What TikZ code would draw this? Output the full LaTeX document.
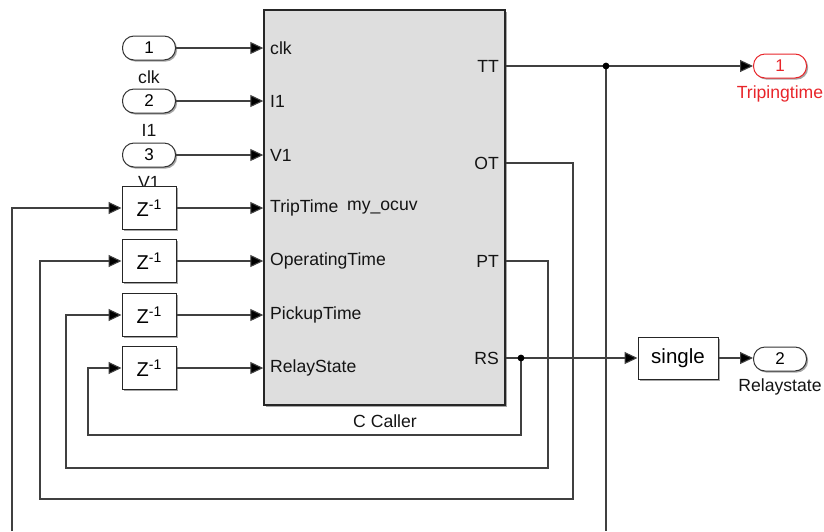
\documentclass[tikz,border=0pt]{standalone}
\usepackage{fontspec}
\setmainfont{Liberation Sans}
\usetikzlibrary{arrows.meta,shadows}
\definecolor{wirec}{HTML}{404040}
\definecolor{blkfill}{HTML}{DEDEDE}
\definecolor{outred}{HTML}{E8252A}
\begin{document}
\begin{tikzpicture}[x=1pt,y=-1pt,
  shd/.style={drop shadow={shadow xshift=1.6pt,shadow yshift=-1.6pt,opacity=0.35,fill=black}},
  port/.style={draw=black!80,line width=1pt,rounded corners=11.5pt,minimum width=53pt,minimum height=24pt,inner sep=0pt,fill=white,font=\fontsize{17}{17}\selectfont,shd},
  delay/.style={draw=black!85,line width=1pt,minimum width=54pt,minimum height=43pt,inner sep=0pt,fill=white,shd},
  cbox/.style={draw=black!85,line width=1pt,minimum width=80pt,minimum height=42pt,inner sep=0pt,fill=white,font=\fontsize{20.5}{20.5}\selectfont,shd},
  mainblk/.style={draw=black!85,line width=1.4pt,minimum width=241pt,minimum height=395pt,inner sep=0pt,fill=blkfill,shd},
  lbl/.style={font=\fontsize{17.6}{18}\selectfont,text=black!92,inner sep=0pt},
  wire/.style={draw=wirec,line width=1.1pt},
  arr/.style={wire,-{Triangle[length=13pt,width=12pt,fill=black]}},
  dot/.style={fill=black}
]
\useasboundingbox (0,0) rectangle (824,531);

% main block
\node[mainblk] (blk) at (384.5,207.5) {};
\node[lbl] (cc) at (385,421) {C Caller};

% input port labels inside block
\node[lbl,anchor=west] (Lclk) at (270,48) {clk};
\node[lbl,anchor=west] (LI1) at (270,101) {I1};
\node[lbl,anchor=west] (LV1) at (270,155) {V1};
\node[lbl,anchor=west] (LTT) at (270,208) {TripTime};
\node[lbl,anchor=west] (Lname) at (347,208) {my\_ocuv};
\node[lbl,anchor=west] (LOT) at (270,261) {OperatingTime};
\node[lbl,anchor=west] (LPT) at (270,315) {PickupTime};
\node[lbl,anchor=west] (LRS) at (270,368) {RelayState};
% output port labels
\node[lbl,anchor=east] (RTT) at (499,66) {TT};
\node[lbl,anchor=east] (ROT) at (499,163) {OT};
\node[lbl,anchor=east] (RPT) at (499,261) {PT};
\node[lbl,anchor=east] (RRS) at (499,358) {RS};

% inports
\node[lbl] (lclk) at (149,77) {clk};
\node[lbl] (lI1) at (149,130) {I1};
\node[lbl] (lV1) at (149,182) {V1};
\node[port] (in1) at (149,48) {1};
\node[port] (in2) at (149,101) {2};
\node[port] (in3) at (149,155) {3};

% unit delays
\newcommand{\zinv}{\fontsize{20}{20}\selectfont Z\raisebox{6.5pt}{\fontsize{14}{14}\selectfont -1}}
\node[delay] (z1) at (149,208) {\zinv};
\node[delay] (z2) at (149,261) {\zinv};
\node[delay] (z3) at (149,315) {\zinv};
\node[delay] (z4) at (149,368) {\zinv};

% outports and conversion
\node[port,draw=outred,text=outred] (out1) at (780,66) {1};
\node[lbl,text=outred] (lout1) at (780,94) {Tripingtime};
\node[cbox] (sgl) at (678,358) {single};
\node[port] (out2) at (780,359) {2};
\node[lbl] (lout2) at (780,387) {Relaystate};

% input wires
\draw[arr] (in1.east) -- (in1.east -| blk.west);
\draw[arr] (in2.east) -- (in2.east -| blk.west);
\draw[arr] (in3.east) -- (in3.east -| blk.west);
\draw[arr] (z1.east) -- (z1.east -| blk.west);
\draw[arr] (z2.east) -- (z2.east -| blk.west);
\draw[arr] (z3.east) -- (z3.east -| blk.west);
\draw[arr] (z4.east) -- (z4.east -| blk.west);

% output coordinates
\coordinate (pTT) at (blk.east |- RTT);
\coordinate (pOT) at (blk.east |- ROT);
\coordinate (pPT) at (blk.east |- RPT);
\coordinate (pRS) at (blk.east |- RRS);
\coordinate (jTT) at (606,66);
\coordinate (jRS) at (521,358);
\coordinate (bTT) at (606,531);
\coordinate (bL) at (12,531);

% TT
\draw[wire] (pTT) -- (jTT);
\draw[arr] (jTT) -- (out1.west);
\draw[wire] (jTT) -- (bTT);
\draw[arr] (bL) |- (z1.west);
% OT
\draw[arr] (pOT) -| (573,499) -| (40,261) -- (z2.west);
% PT
\draw[arr] (pPT) -| (548,468) -| (66,315) -- (z3.west);
% RS
\draw[wire] (pRS) -- (jRS);
\draw[arr] (jRS) -- (sgl.west);
\draw[arr] (jRS) -- (521,435) -| (88,368) -- (z4.west);
\draw[arr] (sgl.east) -- (sgl.east -| out2.west);

\fill[dot] (jTT) circle (3.4pt);
\fill[dot] (jRS) circle (3.4pt);
\end{tikzpicture}
\end{document}
